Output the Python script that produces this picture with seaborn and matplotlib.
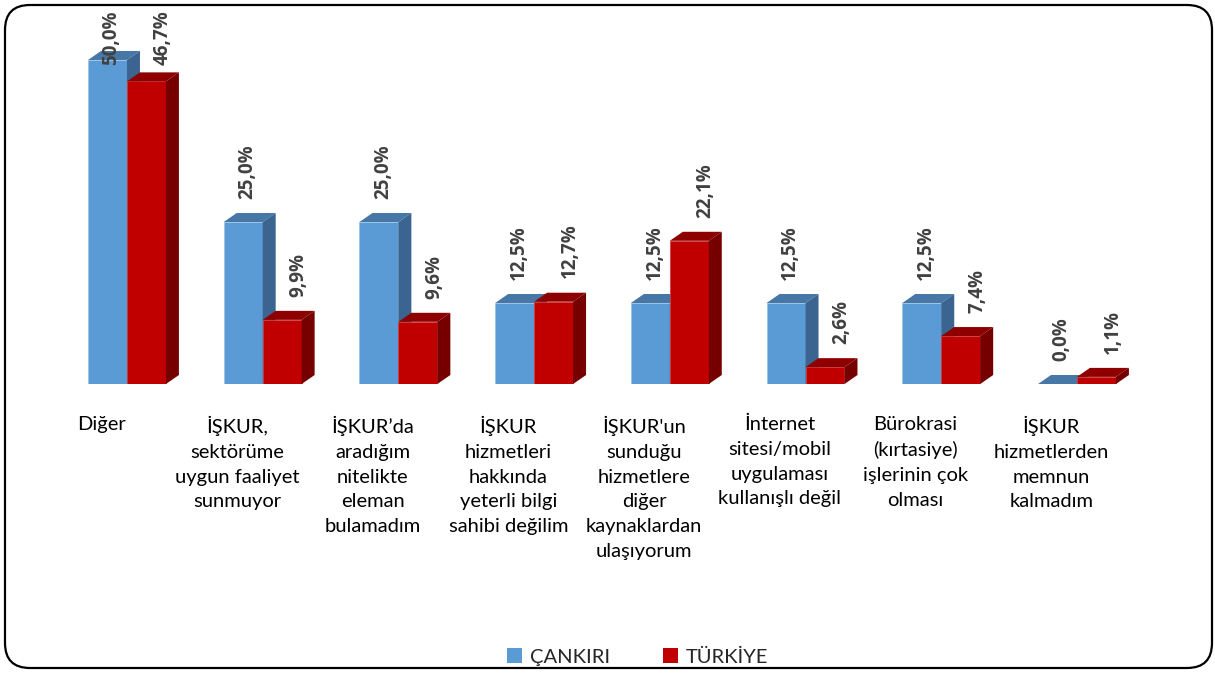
import numpy as np
import pandas as pd
import seaborn as sns
import matplotlib
matplotlib.use("Agg")
import matplotlib.pyplot as plt
from matplotlib.patches import Polygon, FancyBboxPatch, Patch

categories = [
    "Diğer",
    "İŞKUR,\nsektörüme\nuygun faaliyet\nsunmuyor",
    "İŞKUR’da\naradığım\nnitelikte\neleman\nbulamadım",
    "İŞKUR\nhizmetleri\nhakkında\nyeterli bilgi\nsahibi değilim",
    "İŞKUR'un\nsunduğu\nhizmetlere\ndiğer\nkaynaklardan\nulaşıyorum",
    "İnternet\nsitesi/mobil\nuygulaması\nkullanışlı değil",
    "Bürokrasi\n(kırtasiye)\nişlerinin çok\nolması",
    "İŞKUR\nhizmetlerden\nmemnun\nkalmadım",
]
series = ["ÇANKIRI", "TÜRKİYE"]
cankiri = [50.0, 25.0, 25.0, 12.5, 12.5, 12.5, 12.5, 0.0]
turkiye = [46.7, 9.9, 9.6, 12.7, 22.1, 2.6, 7.4, 1.1]

BLUE, BLUE_TOP, BLUE_SIDE = "#5B9BD5", "#4777A6", "#3B6590"
RED, RED_TOP, RED_SIDE = "#C00000", "#8E0000", "#760000"

df = pd.DataFrame({
    "cat": categories * 2,
    "series": [series[0]] * len(categories) + [series[1]] * len(categories),
    "val": cankiri + turkiye,
})

sns.set_theme(style="white")
plt.rcParams["font.family"] = ["Lato", "DejaVu Sans"]

fig = plt.figure(figsize=(12.15, 6.73), dpi=100)
ax = fig.add_axes([0.01514, 0.4294, 0.9606, 0.5585])

sns.barplot(data=df, x="cat", y="val", hue="series", order=categories,
            hue_order=series, palette=[BLUE, RED], width=0.574, saturation=1,
            errorbar=None, legend=False, ax=ax)

ax.set_xlim(-0.8, 7.8)
ax.set_ylim(0, 58)

dx, dy = 0.0958, 1.389
cap = 49.2
blue_rgba = matplotlib.colors.to_rgba(BLUE)
for rect in list(ax.patches):
    x0, w, h = rect.get_x(), rect.get_width(), rect.get_height()
    is_blue = np.allclose(rect.get_facecolor(), blue_rgba, atol=0.02)
    z = 1 if is_blue else 2
    top_c = BLUE_TOP if is_blue else RED_TOP
    side_c = BLUE_SIDE if is_blue else RED_SIDE
    rect.set_zorder(z)
    rect.set_edgecolor("#9DC3E6" if is_blue else "#D04040")
    rect.set_linewidth(0.6 if h > 0 else 0)
    ax.add_patch(Polygon([(x0, h), (x0 + w, h), (x0 + w + dx, h + dy), (x0 + dx, h + dy)],
                         closed=True, facecolor=top_c, edgecolor="none", zorder=z))
    ax.add_patch(Polygon([(x0 + w, 0), (x0 + w, h), (x0 + w + dx, h + dy), (x0 + w + dx, dy)],
                         closed=True, facecolor=side_c, edgecolor="none", zorder=z))
    shift = 0.03 if is_blue else 0.12
    ly = min(h + dy + 2.2, cap)
    txt = f"{h:.1f}".replace(".", ",") + "%"
    ax.text(x0 + w / 2 + shift, ly, txt, rotation=90, ha="center", va="bottom",
            fontsize=13.5, fontweight="bold", color="#404040", zorder=5,
            family=["Open Sans", "DejaVu Sans"])

ax.set_xticks(np.arange(len(categories)) - 0.19, categories)
ax.tick_params(axis="x", length=0, pad=23, labelsize=14.5, labelcolor="#000000")
for lbl in ax.get_xticklabels():
    lbl.set_linespacing(1.55)
ax.set_yticks([])
ax.set_xlabel("")
ax.set_ylabel("")
for s in ax.spines.values():
    s.set_visible(False)

handles = [Patch(facecolor=BLUE, edgecolor="none"), Patch(facecolor=RED, edgecolor="none")]
fig.legend(handles, series, loc="center", bbox_to_anchor=(0.525, 16 / 673), ncol=2,
           frameon=False, handlelength=0.75, handleheight=0.75, handletextpad=0.4,
           columnspacing=2.6, fontsize=14.5)

frame = FancyBboxPatch((0.05, 0.05), 12.07, 6.63,
                       boxstyle="round,pad=0,rounding_size=0.25",
                       transform=fig.dpi_scale_trans, fill=False,
                       edgecolor="black", linewidth=1.6)
fig.add_artist(frame)

fig.savefig("out.png", dpi=100)
